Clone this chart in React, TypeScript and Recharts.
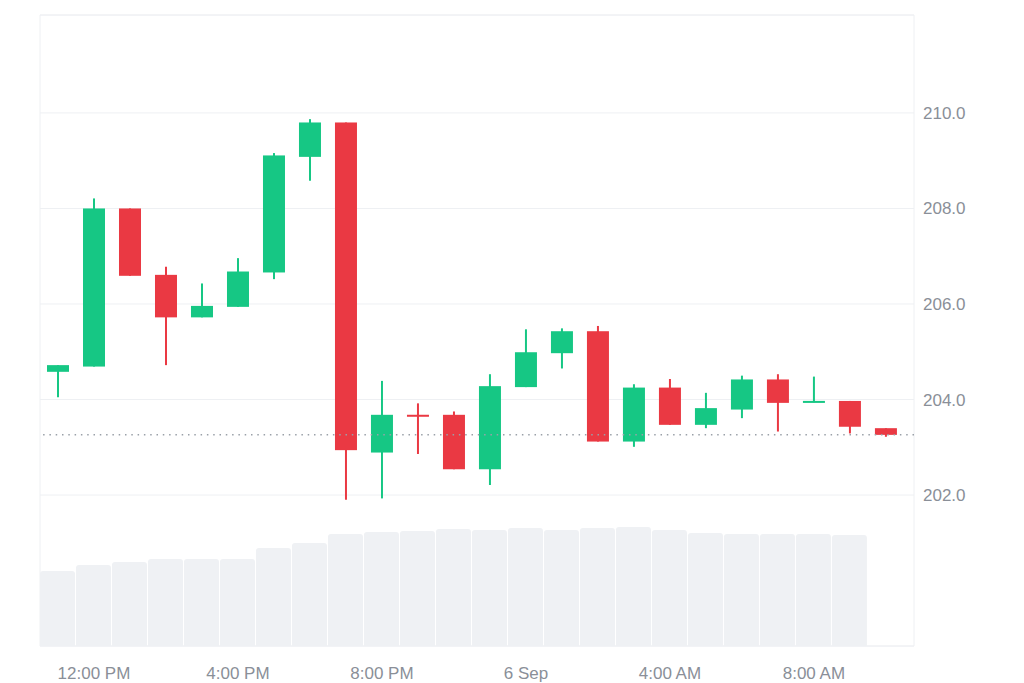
import { ComposedChart, Bar, XAxis, YAxis, CartesianGrid, ReferenceLine, ReferenceArea } from "recharts"

// hourly candles, 11:00 AM to 10:00 AM next day
const times = [
  "11:00 AM", "12:00 PM", "1:00 PM", "2:00 PM", "3:00 PM", "4:00 PM", "5:00 PM", "6:00 PM",
  "7:00 PM", "8:00 PM", "9:00 PM", "10:00 PM", "11:00 PM", "6 Sep", "1:00 AM", "2:00 AM",
  "3:00 AM", "4:00 AM", "5:00 AM", "6:00 AM", "7:00 AM", "8:00 AM", "9:00 AM", "10:00 AM",
]
const opens = [
  204.58, 204.69, 208.0, 206.61, 205.72, 205.94, 206.66, 209.08, 209.8, 202.89, 203.67, 203.68,
  202.54, 204.26, 204.97, 205.43, 203.12, 204.25, 203.47, 203.79, 204.42, 203.94, 203.97, 203.4,
]
const highs = [
  204.72, 208.21, 208.0, 206.78, 206.43, 206.96, 209.16, 209.87, 209.8, 204.39, 203.92, 203.75,
  204.53, 205.47, 205.49, 205.54, 204.32, 204.43, 204.14, 204.5, 204.53, 204.48, 203.97, 203.4,
]
const lows = [
  204.05, 204.69, 206.59, 204.72, 205.72, 205.94, 206.52, 208.58, 201.9, 201.93, 202.86, 202.54,
  202.21, 204.26, 204.65, 203.12, 203.01, 203.47, 203.4, 203.61, 203.33, 203.94, 203.29, 203.22,
]
const closes = [
  204.72, 208.0, 206.59, 205.72, 205.96, 206.68, 209.11, 209.8, 202.94, 203.68, 203.65, 202.54,
  204.28, 204.99, 205.43, 203.12, 204.25, 203.47, 203.82, 204.42, 203.93, 203.96, 203.43, 203.26,
]
const volumes = [
  713, 770, 799, 827, 827, 827, 932, 979, 1065, 1084, 1094, 1113,
  1103, 1122, 1103, 1122, 1132, 1103, 1075, 1065, 1065, 1065, 1055, null,
]
const tickIndexes = [1, 5, 9, 13, 17, 21]
const priceTicks = [202, 204, 206, 208, 210]

const UP = "#16c784"
const DOWN = "#ea3943"
const priceDomain = [198.84, 212.05]
const xDomain = [-0.5, 23.78]

const data = times.map((t, i) => ({
  idx: i,
  time: t,
  open: opens[i],
  high: highs[i],
  low: lows[i],
  close: closes[i],
  volume: volumes[i],
}))

function Candle(props: any) {
  const { x, y, width, height, payload } = props
  if (!payload) return null
  const { open, close, high, low } = payload
  const color = close >= open ? UP : DOWN
  const ratio = high === low ? 0 : height / (high - low)
  const cx = x + width / 2
  let bodyTop = y + (high - Math.max(open, close)) * ratio
  let bodyH = Math.abs(open - close) * ratio
  if (bodyH < 2) {
    bodyTop = bodyTop + bodyH / 2 - 1
    bodyH = 2
  }
  return (
    <g>
      <line x1={cx} x2={cx} y1={y} y2={y + height} stroke={color} strokeWidth={2} />
      <rect x={x} y={bodyTop} width={width} height={bodyH} fill={color} />
    </g>
  )
}

export default function App() {
  const tickStyle = { fill: "#8a8f98", fontSize: 17, fontFamily: "'Liberation Sans', Arial, sans-serif" }
  return (
    <div style={{ width: 1008, height: 675, fontFamily: "'Liberation Sans', Arial, sans-serif" }}>
      <ComposedChart width={1008} height={675} data={data} margin={{ top: 7, right: 8, left: 32, bottom: 0 }}>
        <XAxis
          xAxisId="price"
          dataKey="idx"
          type="number"
          domain={xDomain}
          ticks={tickIndexes}
          tickFormatter={(v) => times[v] ?? ""}
          axisLine={false}
          tickLine={false}
          tickMargin={15}
          height={37}
          tick={tickStyle}
          interval={0}
        />
        <XAxis xAxisId="vol" dataKey="idx" type="number" domain={xDomain} hide />
        <YAxis
          yAxisId="price"
          orientation="right"
          domain={priceDomain}
          ticks={priceTicks}
          tickFormatter={(v) => v.toFixed(1)}
          axisLine={false}
          tickLine={false}
          tickMargin={3}
          width={94}
          tick={tickStyle}
          allowDataOverflow
        />
        <YAxis yAxisId="vol" domain={[0, 6000]} hide />
        <CartesianGrid xAxisId="price" yAxisId="price" vertical={false} stroke="#eef0f3" />
        <ReferenceArea
          xAxisId="price"
          yAxisId="price"
          x1={xDomain[0]}
          x2={xDomain[1]}
          y1={priceDomain[0]}
          y2={priceDomain[1]}
          fill="none"
          stroke="#eef0f3"
        />
        <Bar
          xAxisId="vol"
          yAxisId="vol"
          dataKey="volume"
          barSize={35}
          fill="#eff1f4"
          radius={[3, 3, 0, 0]}
          isAnimationActive={false}
        />
        <ReferenceLine
          xAxisId="price"
          yAxisId="price"
          y={closes[closes.length - 1]}
          stroke="#9aa0a8"
          strokeWidth={1.5}
          strokeDasharray="1.5 4.8"
        />
        <Bar
          xAxisId="price"
          yAxisId="price"
          dataKey={(d: any) => [d.low, d.high]}
          barSize={22}
          shape={<Candle />}
          isAnimationActive={false}
        />
      </ComposedChart>
    </div>
  )
}
